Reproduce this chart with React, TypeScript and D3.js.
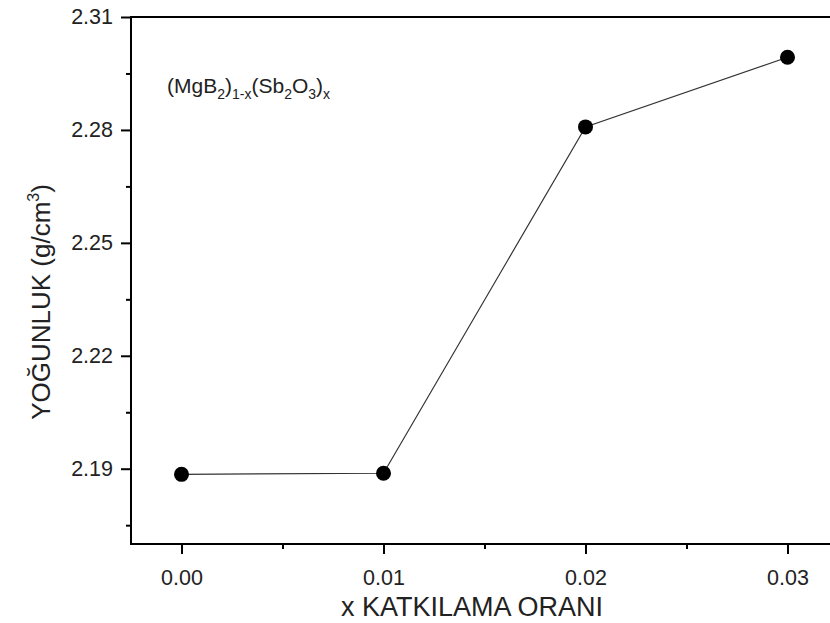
import { useEffect, useRef } from 'react';
import * as d3 from 'd3';

const DOPING = [0, 0.01, 0.02, 0.03];
const DENSITY = [2.1885, 2.1888, 2.2808, 2.2993];
const X_TICKS = [0, 0.01, 0.02, 0.03];
const X_MINOR = [0.005, 0.015, 0.025];
const Y_TICKS = [2.19, 2.22, 2.25, 2.28, 2.31];
const Y_MINOR = [2.175, 2.205, 2.235, 2.265, 2.295];

const WIDTH = 830;
const HEIGHT = 623;
const LEFT = 131;
const RIGHT = 838;
const TOP = 17;
const BOTTOM = 544;
const FONT = 'Liberation Sans, Arial, sans-serif';

export default function App() {
  const ref = useRef<SVGSVGElement>(null);

  useEffect(() => {
    const svg = d3.select(ref.current);
    svg.selectAll('*').remove();

    const x = d3.scaleLinear().domain([-0.0025, 0.0325]).range([LEFT, RIGHT]);
    const y = d3.scaleLinear().domain([2.17, 2.31]).range([BOTTOM, TOP]);

    const styleAxis = (g: d3.Selection<SVGGElement, unknown, null, undefined>) => {
      g.select('.domain').remove();
      g.selectAll('line').attr('stroke', '#000').attr('stroke-width', 2);
      g.selectAll('text')
        .attr('fill', '#222')
        .attr('font-size', 21.5)
        .attr('font-family', FONT);
    };

    // major + minor ticks
    svg
      .append('g')
      .attr('transform', `translate(0,${BOTTOM})`)
      .call(d3.axisBottom(x).tickValues(X_TICKS).tickSize(10).tickPadding(16).tickFormat(d3.format('.2f')))
      .call(styleAxis);
    svg
      .append('g')
      .attr('transform', `translate(0,${BOTTOM})`)
      .call(d3.axisBottom(x).tickValues(X_MINOR).tickSize(5).tickFormat(() => ''))
      .call(styleAxis);
    svg
      .append('g')
      .attr('transform', `translate(${LEFT},0)`)
      .call(d3.axisLeft(y).tickValues(Y_TICKS).tickSize(10).tickPadding(8).tickFormat(d3.format('.2f')))
      .call(styleAxis);
    svg
      .append('g')
      .attr('transform', `translate(${LEFT},0)`)
      .call(d3.axisLeft(y).tickValues(Y_MINOR).tickSize(5).tickFormat(() => ''))
      .call(styleAxis);

    // frame
    svg
      .append('rect')
      .attr('x', LEFT)
      .attr('y', TOP)
      .attr('width', RIGHT - LEFT)
      .attr('height', BOTTOM - TOP)
      .attr('fill', 'none')
      .attr('stroke', '#000')
      .attr('stroke-width', 2);

    const points = DOPING.map((d, i) => [d, DENSITY[i]] as [number, number]);
    const line = d3
      .line<[number, number]>()
      .x((d) => x(d[0]))
      .y((d) => y(d[1]));

    svg
      .append('path')
      .attr('d', line(points) ?? '')
      .attr('fill', 'none')
      .attr('stroke', '#333')
      .attr('stroke-width', 1.2);

    svg
      .selectAll('circle.pt')
      .data(points)
      .join('circle')
      .attr('class', 'pt')
      .attr('cx', (d) => x(d[0]))
      .attr('cy', (d) => y(d[1]))
      .attr('r', 7.5)
      .attr('fill', '#000');

    // axis titles
    svg
      .append('text')
      .attr('x', 472)
      .attr('y', 616)
      .attr('text-anchor', 'middle')
      .attr('font-size', 27)
      .attr('font-family', FONT)
      .attr('fill', '#222')
      .text('x KATKILAMA ORANI');

    const yt = svg
      .append('text')
      .attr('transform', 'translate(50,302) rotate(-90)')
      .attr('text-anchor', 'middle')
      .attr('font-size', 26)
      .attr('font-family', FONT)
      .attr('fill', '#222');
    yt.append('tspan').text('YOĞUNLUK (g/cm');
    yt.append('tspan').attr('font-size', 16).attr('dy', -11).text('3');
    yt.append('tspan').attr('dy', 11).text(')');

    // annotation
    const note = svg
      .append('text')
      .attr('x', 167)
      .attr('y', 93)
      .attr('font-size', 21)
      .attr('font-family', FONT)
      .attr('fill', '#222');
    const sub = (s: string) => note.append('tspan').attr('font-size', 14).attr('dy', 6).text(s);
    const base = (s: string) => note.append('tspan').attr('font-size', 21).attr('dy', -6).text(s);
    note.append('tspan').text('(MgB');
    sub('2');
    base(')');
    sub('1-x');
    base('(Sb');
    sub('2');
    base('O');
    sub('3');
    base(')');
    sub('x');
  }, []);

  return (
    <svg
      ref={ref}
      width={WIDTH}
      height={HEIGHT}
      style={{ position: 'absolute', left: 0, top: 0, background: '#fff', overflow: 'hidden' }}
    />
  );
}
